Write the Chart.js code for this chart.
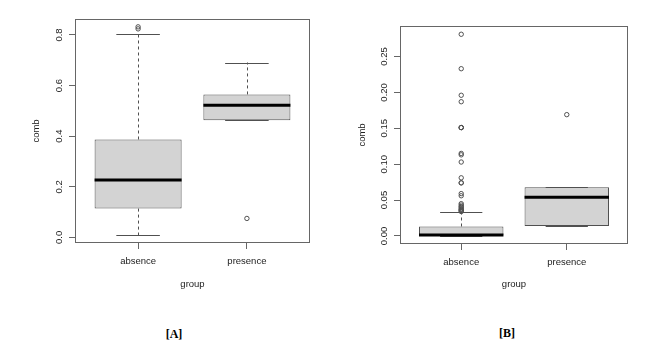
<!DOCTYPE html>
<html>
<head>
<meta charset="utf-8">
<script src="https://cdn.jsdelivr.net/npm/chart.js@4/dist/chart.umd.min.js"></script>
<style>
html,body{margin:0;padding:0;background:#fff;}
body{width:655px;height:355px;position:relative;overflow:hidden;}
.wrap{position:absolute;top:0;}
#wA{left:0;width:330px;height:300px;}
#wB{left:330px;width:325px;height:300px;}
.lab{position:absolute;font:bold 12px "Liberation Serif","Times New Roman",serif;color:#000;transform:translate(-50%,-50%);white-space:nowrap;}
</style>
</head>
<body>
<div id="wA" class="wrap"><canvas id="cA" width="330" height="300"></canvas></div>
<div id="wB" class="wrap"><canvas id="cB" width="325" height="300"></canvas></div>
<div class="lab" style="left:174px;top:334px;">[A]</div>
<div class="lab" style="left:507px;top:333px;">[B]</div>
<script>
// ---- shared ----
const categories = ['absence', 'presence'];
const xTitle = 'group';
const yTitle = 'comb';

// ---- panel A ----
const aWhiskerLow  = [0.009, 0.463];
const aQ1          = [0.114, 0.463];
const aMedian      = [0.227, 0.522];
const aQ3          = [0.387, 0.565];
const aWhiskerHigh = [0.804, 0.691];
const aOutliersAbsence  = [0.832, 0.824];
const aOutliersPresence = [0.075];
const aTicks = [0.0, 0.2, 0.4, 0.6, 0.8];

// ---- panel B ----
const bWhiskerLow  = [0.0, 0.0139];
const bQ1          = [0.0, 0.0139];
const bMedian      = [0.0014, 0.054];
const bQ3          = [0.0132, 0.0679];
const bWhiskerHigh = [0.0330, 0.0679];
const bOutliersAbsence  = [0.281, 0.233, 0.196, 0.187, 0.151, 0.151, 0.151, 0.115, 0.113, 0.103,
                           0.081, 0.074, 0.074, 0.059, 0.056, 0.045, 0.043, 0.041, 0.040, 0.038,
                           0.037, 0.036, 0.035, 0.034];
const bOutliersPresence = [0.169];
const bTicks = [0.00, 0.05, 0.10, 0.15, 0.20, 0.25];

const fontTick = {family: '"Liberation Sans", Arial, sans-serif', size: 9.5};
const textColor = '#222';
const frameColor = '#666';
const boxLine = '#505050';

const boxPlugin = {
  id: 'boxExtras',
  beforeDatasetsDraw(chart, args, opts) {
    const {ctx, scales: {x, y}} = chart;
    const s = opts.stats;
    ctx.save();
    ctx.strokeStyle = boxLine;
    ctx.lineWidth = 1;
    const seg = (x1, y1, x2, y2) => { ctx.beginPath(); ctx.moveTo(x1, y1); ctx.lineTo(x2, y2); ctx.stroke(); };
    categories.forEach((c, i) => {
      const px = Math.round(x.getPixelForValue(i + 1)) + 0.5;
      ctx.setLineDash([3, 3]);
      if (s.hi[i] > s.q3[i]) seg(px, y.getPixelForValue(s.q3[i]), px, y.getPixelForValue(s.hi[i]));
      if (s.lo[i] < s.q1[i]) seg(px, y.getPixelForValue(s.q1[i]), px, y.getPixelForValue(s.lo[i]));
      ctx.setLineDash([]);
    });
    ctx.restore();
  },
  afterDatasetsDraw(chart, args, opts) {
    const {ctx, scales: {x, y}, chartArea: ca} = chart;
    const s = opts.stats;
    ctx.save();
    const seg = (x1, y1, x2, y2) => { ctx.beginPath(); ctx.moveTo(x1, y1); ctx.lineTo(x2, y2); ctx.stroke(); };
    categories.forEach((c, i) => {
      // caps
      ctx.strokeStyle = boxLine; ctx.lineWidth = 1;
      const cl = x.getPixelForValue(i + 1 - 0.2), cr = x.getPixelForValue(i + 1 + 0.2);
      const yh = Math.round(y.getPixelForValue(s.hi[i])) + 0.5;
      const yl = Math.round(y.getPixelForValue(s.lo[i])) + 0.5;
      seg(cl, yh, cr, yh);
      seg(cl, yl, cr, yl);
      // median
      ctx.strokeStyle = '#000'; ctx.lineWidth = 3;
      const bl = x.getPixelForValue(i + 1 - 0.4), br = x.getPixelForValue(i + 1 + 0.4);
      const ym = y.getPixelForValue(s.med[i]);
      seg(bl, ym, br, ym);
    });
    ctx.restore();
  },
  afterDraw(chart) {
    const {ctx, chartArea: ca} = chart;
    ctx.save();
    ctx.strokeStyle = frameColor; ctx.lineWidth = 1;
    ctx.strokeRect(Math.round(ca.left) + 0.5, Math.round(ca.top) + 0.5,
                   Math.round(ca.right - ca.left) - 1, Math.round(ca.bottom - ca.top) - 1);
    ctx.restore();
  }
};

function panel(id, d) {
  const boxData = categories.map((c, i) => ({x: i + 1, y: [d.q1[i], d.q3[i]]}));
  const outData = [];
  d.outliers.forEach((arr, i) => arr.forEach(v => outData.push({x: i + 1, y: v})));
  return new Chart(document.getElementById(id), {
    type: 'bar',
    data: {
      datasets: [
        {type: 'bar', label: 'box', data: boxData, backgroundColor: '#d3d3d3', borderColor: boxLine,
         borderWidth: 1, borderSkipped: false, barPercentage: 0.8, categoryPercentage: 1, order: 2},
        {type: 'scatter', label: 'outliers', data: outData, pointStyle: 'circle', pointRadius: 2.2,
         pointBorderWidth: 1, pointBorderColor: boxLine, pointBackgroundColor: 'rgba(0,0,0,0)',
         showLine: false, order: 1}
      ]
    },
    options: {
      responsive: false,
      animation: false,
      events: [],
      layout: {padding: d.pad},
      plugins: {legend: {display: false}, tooltip: {enabled: false}, boxExtras: {stats: d}},
      scales: {
        x: {
          type: 'linear', min: 0.42, max: 2.58, offset: false,
          afterBuildTicks: s => { s.ticks = categories.map((c, i) => ({value: i + 1})); },
          afterFit: s => { s.height = d.xH; },
          ticks: {autoSkip: false, maxRotation: 0, minRotation: 0, padding: 7, color: textColor, font: fontTick,
                  callback: v => categories[Math.round(v) - 1]},
          grid: {drawOnChartArea: false, drawTicks: true, tickLength: 6, color: frameColor, offset: false},
          border: {display: false},
          title: {display: true, text: xTitle, color: textColor, font: fontTick, padding: {top: 0, bottom: 10}}
        },
        y: {
          type: 'linear', min: d.yMin, max: d.yMax,
          afterBuildTicks: s => { s.ticks = d.ticks.map(v => ({value: v})); },
          afterFit: s => { s.width = d.yW; },
          ticks: {autoSkip: false, minRotation: 90, maxRotation: 90, crossAlign: 'center', padding: d.yPad,
                  color: textColor, font: fontTick, callback: v => Number(v).toFixed(d.dec)},
          grid: {drawOnChartArea: false, drawTicks: true, tickLength: 6, color: frameColor},
          border: {display: false},
          title: {display: true, text: yTitle, color: textColor, font: fontTick, padding: {top: d.yTitlePad, bottom: 0}}
        }
      }
    },
    plugins: [boxPlugin]
  });
}

panel('cA', {
  lo: aWhiskerLow, q1: aQ1, med: aMedian, q3: aQ3, hi: aWhiskerHigh,
  outliers: [aOutliersAbsence, aOutliersPresence], ticks: aTicks, dec: 1,
  yMin: -0.022, yMax: 0.863,
  pad: {left: 0, right: 20, top: 19, bottom: 0}, xH: 57, yW: 75, yPad: 3, yTitlePad: 31
});
panel('cB', {
  lo: bWhiskerLow, q1: bQ1, med: bMedian, q3: bQ3, hi: bWhiskerHigh,
  outliers: [bOutliersAbsence, bOutliersPresence], ticks: bTicks, dec: 2,
  yMin: -0.0112, yMax: 0.2925,
  pad: {left: 0, right: 27, top: 26, bottom: 0}, xH: 56, yW: 70, yPad: 0, yTitlePad: 27
});
</script>
</body>
</html>
